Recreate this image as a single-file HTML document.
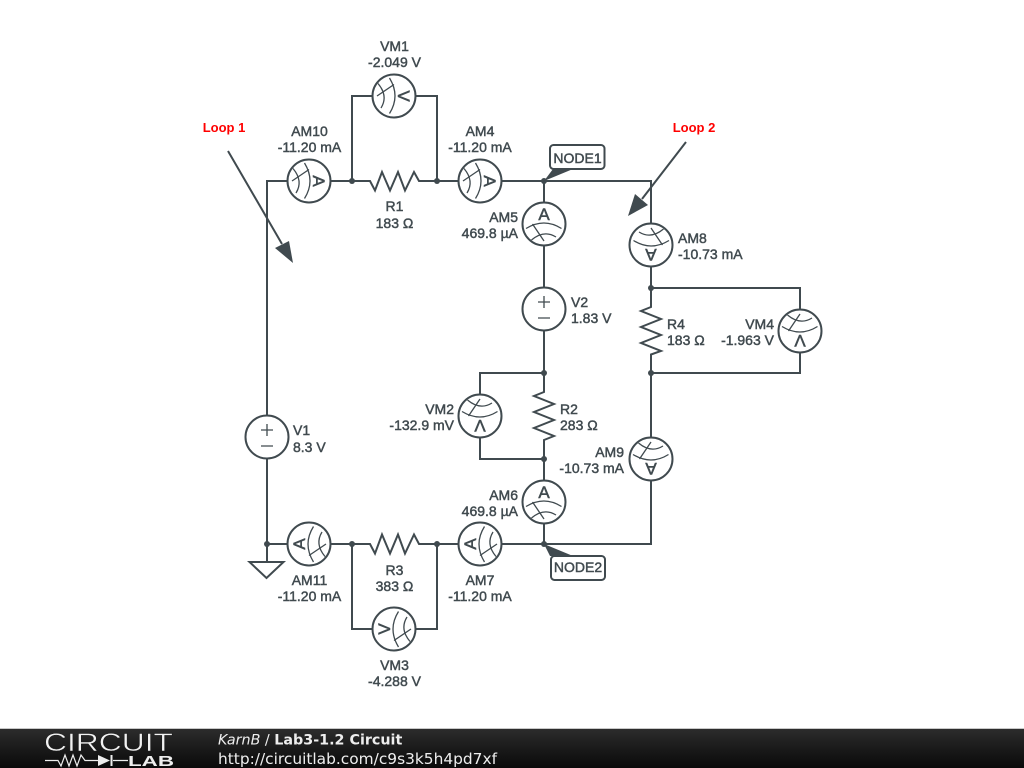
<!DOCTYPE html>
<html>
<head>
<meta charset="utf-8">
<style>
html,body{margin:0;padding:0;background:#fff;width:1024px;height:768px;overflow:hidden}
svg{display:block}
.w{fill:none;stroke:#404a4f;stroke-width:2}
.l{font-family:"Liberation Sans",sans-serif;font-size:14px;fill:#404a4f;stroke:#404a4f;stroke-width:.45}
.r{font-family:"Liberation Sans",sans-serif;font-size:13px;font-weight:bold;fill:#f00}
.n{font-family:"Liberation Sans",sans-serif;font-size:14px;fill:#404a4f;stroke:#404a4f;stroke-width:.45}
.m{font-family:"Liberation Sans",sans-serif;font-size:17px;fill:#404a4f;stroke:#404a4f;stroke-width:.5;text-anchor:middle}
.mid{text-anchor:middle}
.end{text-anchor:end}
</style>
</head>
<body>
<svg width="1024" height="768" viewBox="0 0 1024 768" xmlns="http://www.w3.org/2000/svg">
<defs>
<g id="dial">
<circle r="21.5" fill="#fff" stroke="#404a4f" stroke-width="2"/>
<path d="M-18 4.500Q0-6.500 17.500 4.500M-12.500 16Q0 5.500 12 13M-11.500 0L0 17" fill="none" stroke="#404a4f" stroke-width="1.300"/>
</g>
<g id="vs">
<circle r="21.5" fill="#fff" stroke="#404a4f" stroke-width="2"/>
<path d="M-6-7H6M0-13V-1M-6 9H6" fill="none" stroke="#404a4f" stroke-width="1.300"/>
</g>
<linearGradient id="bar" x1="0" y1="0" x2="0" y2="1">
<stop offset="0" stop-color="#2c2c2c"/><stop offset=".5" stop-color="#1a1a1a"/><stop offset="1" stop-color="#0a0a0a"/>
</linearGradient>
</defs>

<!-- wires -->
<path class="w" d="M288 181H267V523M267 459V544M267 544H288M267 544V562"/>
<path class="w" d="M331 181H370L375 190.500 382 172 390 190.500 398 172 405 190.500 414 172 419 181H459M502 181H651V224"/>
<path class="w" d="M352 181V96H373M416 96H437V181"/>
<path class="w" d="M544 181V203M544 245V288M544 331V392L534 396 554 404 534 412 554 420 534 428 554 436 544 440V481"/>
<path class="w" d="M544 373H480V395M480 437V459H544"/>
<path class="w" d="M544 523V544"/>
<path class="w" d="M651 266V307L641 311 661 319 641 327 661 335 641 343 661 351 651 354.500V437M651 480V544H502"/>
<path class="w" d="M651 288H800V310M800 352V373H651"/>
<path class="w" d="M459 544H419L414 534.500 405 553.500 398 534.500 390 553.500 382 534.500 375 553.500 370 544H331"/>
<path class="w" d="M352 544V629H373M416 629H437V544"/>
<path class="w" d="M249.500 562H283.500L266.500 578Z"/>

<!-- junctions -->
<g fill="#404a4f">
<circle cx="352" cy="181" r="3"/><circle cx="437" cy="181" r="3"/><circle cx="544" cy="181" r="3"/>
<circle cx="651" cy="288" r="3"/><circle cx="651" cy="373" r="3"/>
<circle cx="544" cy="373" r="3"/><circle cx="544" cy="459" r="3"/>
<circle cx="267" cy="544" r="3"/><circle cx="352" cy="544" r="3"/><circle cx="437" cy="544" r="3"/><circle cx="544" cy="544" r="3"/>
</g>

<!-- meters -->
<g transform="translate(309 181) rotate(90)"><use href="#dial"/><text class="m" y="-4">A</text></g>
<g transform="translate(480 181) rotate(90)"><use href="#dial"/><text class="m" y="-4">A</text></g>
<g transform="translate(394 96) rotate(90)"><use href="#dial"/><text class="m" y="-4">V</text></g>
<g transform="translate(544 224)"><use href="#dial"/><text class="m" y="-4">A</text></g>
<g transform="translate(544 502)"><use href="#dial"/><text class="m" y="-4">A</text></g>
<g transform="translate(651 245) rotate(180)"><use href="#dial"/><text class="m" y="-4">A</text></g>
<g transform="translate(651 459) rotate(180) scale(-1 1)"><use href="#dial"/><text class="m" y="-4">A</text></g>
<g transform="translate(480 416) rotate(180) scale(-1 1)"><use href="#dial"/><text class="m" y="-4">V</text></g>
<g transform="translate(800 331) rotate(180) scale(-1 1)"><use href="#dial"/><text class="m" y="-4">V</text></g>
<g transform="translate(309 544) rotate(-90)"><use href="#dial"/><text class="m" y="-4">A</text></g>
<g transform="translate(480 544) rotate(-90)"><use href="#dial"/><text class="m" y="-4">A</text></g>
<g transform="translate(394 629) rotate(-90)"><use href="#dial"/><text class="m" y="-4">V</text></g>

<use href="#vs" x="544" y="309"/>
<use href="#vs" x="267" y="437"/>

<!-- labels -->
<g class="l">
<text class="l mid" x="394.500" y="51">VM1</text><text class="l mid" x="394.500" y="67">-2.049 V</text>
<text class="l mid" x="309.500" y="136">AM10</text><text class="l mid" x="309.500" y="152">-11.20 mA</text>
<text class="l mid" x="480" y="136">AM4</text><text class="l mid" x="480" y="152">-11.20 mA</text>
<text class="l mid" x="394.500" y="211">R1</text><text class="l mid" x="394.500" y="228">183 Ω</text>
<text class="l end" x="518" y="222">AM5</text><text class="l end" x="518" y="238">469.8 µA</text>
<text class="l" x="678" y="243">AM8</text><text class="l" x="678" y="259">-10.73 mA</text>
<text class="l" x="571" y="307">V2</text><text class="l" x="571" y="323">1.83 V</text>
<text class="l" x="667" y="329">R4</text><text class="l" x="667" y="345">183 Ω</text>
<text class="l end" x="774" y="329">VM4</text><text class="l end" x="774" y="345">-1.963 V</text>
<text class="l end" x="454" y="414">VM2</text><text class="l end" x="454" y="430">-132.9 mV</text>
<text class="l" x="560" y="414">R2</text><text class="l" x="560" y="430">283 Ω</text>
<text class="l" x="293" y="435">V1</text><text class="l" x="293" y="452">8.3 V</text>
<text class="l end" x="624" y="457">AM9</text><text class="l end" x="624" y="473">-10.73 mA</text>
<text class="l end" x="518" y="500">AM6</text><text class="l end" x="518" y="516">469.8 µA</text>
<text class="l mid" x="394.500" y="575">R3</text><text class="l mid" x="394.500" y="591">383 Ω</text>
<text class="l mid" x="309.500" y="585">AM11</text><text class="l mid" x="309.500" y="601">-11.20 mA</text>
<text class="l mid" x="480" y="585">AM7</text><text class="l mid" x="480" y="601">-11.20 mA</text>
<text class="l mid" x="394.500" y="670">VM3</text><text class="l mid" x="394.500" y="686">-4.288 V</text>
</g>

<!-- node tags -->
<polygon points="544,181 553,169 573,169" fill="#404a4f"/>
<rect x="550" y="145" width="54.500" height="24" rx="3.500" fill="#fff" stroke="#404a4f" stroke-width="2"/>
<text class="n mid" x="577.500" y="163">NODE1</text>
<polygon points="544,544 550,556 573,556" fill="#404a4f"/>
<rect x="551" y="556" width="54" height="24" rx="3.500" fill="#fff" stroke="#404a4f" stroke-width="2"/>
<text class="n mid" x="578" y="572">NODE2</text>

<!-- loop annotations -->
<text class="r mid" x="224" y="132">Loop 1</text>
<text class="r mid" x="694" y="132">Loop 2</text>
<path d="M228 151L282 244" fill="none" stroke="#404a4f" stroke-width="2"/>
<polygon points="275,248 289,241 293,263" fill="#404a4f"/>
<path d="M686 142L642 199" fill="none" stroke="#404a4f" stroke-width="2"/>
<polygon points="635,194 648,205 628,216" fill="#404a4f"/>

<!-- footer -->
<rect x="0" y="728" width="1024" height="1" fill="#c8c8c8"/>
<rect x="0" y="729" width="1024" height="39" fill="url(#bar)"/>
<text x="44" y="751" font-family="Liberation Sans,sans-serif" font-size="25" fill="#f2f2f2" stroke="#1c1c1c" stroke-width=".5" textLength="129" lengthAdjust="spacingAndGlyphs">CIRCUIT</text>
<path d="M45 760.500H58L61 766 65 755 69 766 73 755 77 766 81 755 85 760.500H98M113 760.500H128" fill="none" stroke="#eee" stroke-width="1.200"/>
<polygon points="98,755 98,766 110,760.500" fill="#eee"/>
<rect x="110.500" y="755" width="2" height="11" fill="#eee"/>
<text x="128" y="766" font-family="Liberation Sans,sans-serif" font-size="14.500" font-weight="bold" fill="#eee" textLength="46" lengthAdjust="spacingAndGlyphs">LAB</text>
<text x="218" y="744.500" font-family="DejaVu Sans,sans-serif" font-size="14.300" fill="#eee"><tspan font-style="italic">KarnB</tspan> / <tspan font-weight="bold">Lab3-1.2 Circuit</tspan></text>
<text x="218" y="764" font-family="DejaVu Sans,sans-serif" font-size="15.400" fill="#eee">http://circuitlab.com/c9s3k5h4pd7xf</text>
</svg>
</body>
</html>
